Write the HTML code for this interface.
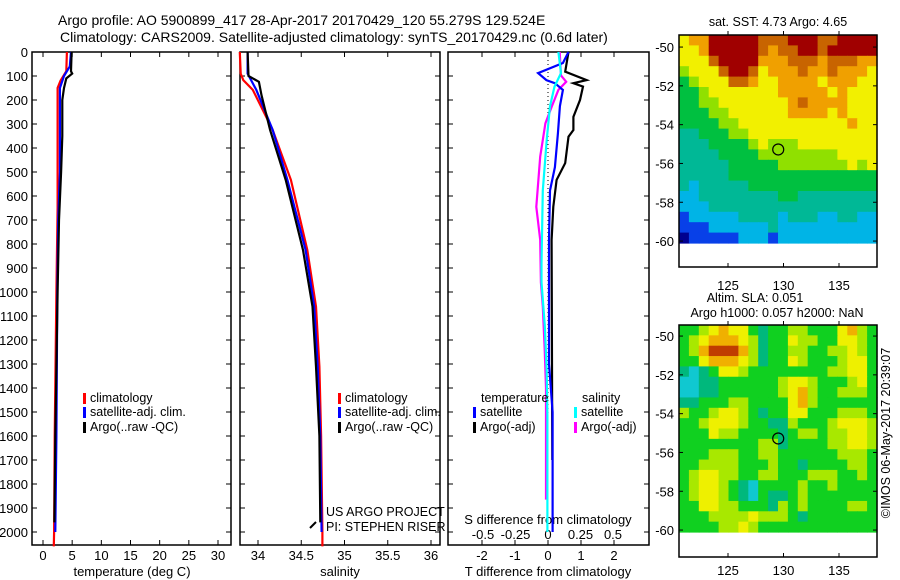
<!DOCTYPE html>
<html><head><meta charset="utf-8">
<style>
body{margin:0;background:#fff;}
svg{display:block;font-family:"Liberation Sans",sans-serif;}
text{fill:#000;}
</style></head>
<body>
<svg id="fig" width="900" height="580" viewBox="0 0 900 580" xmlns="http://www.w3.org/2000/svg">
<rect width="900" height="580" fill="#fff"/>
<text x="58" y="25" font-size="14">Argo profile: AO 5900899_417 28-Apr-2017 20170429_120 55.279S 129.524E</text>
<text x="60" y="42" font-size="14">Climatology: CARS2009. Satellite-adjusted climatology: synTS_20170429.nc (0.6d later)</text>
<g id="g"></g>
</svg>
<script>
// ---- data ----
const tClimDepth=[0,80,120,150,650,1000,1600,2000,2060];
const tClimVal=[4.1,4.0,3.0,2.5,2.5,2.3,2.0,1.9,1.85];
const tSatDepth=[0,60,100,150,500,700,1000,1600,2000];
const tSatVal=[4.8,4.6,3.6,2.9,2.9,2.6,2.45,2.3,2.1];
const tArgoDepth=[0,80,90,110,150,200,350,500,700,1000,1600,1960];
const tArgoVal=[4.9,4.8,5.0,4.0,3.6,3.3,3.3,3.1,2.75,2.5,2.1,1.95];
const sClimDepth=[0,90,117,158,325,533,825,1061,1311,1600,2000,2060];
const sClimVal=[33.79,33.80,33.83,33.94,34.17,34.38,34.57,34.67,34.71,34.73,34.745,34.745];
const sSatDepth=[0,90,158,325,533,825,1061,1311,1600,2000];
const sSatVal=[33.88,33.88,33.98,34.17,34.34,34.55,34.65,34.69,34.72,34.735];
const sArgoDepth=[0,100,124,180,325,533,825,1061,1311,1600,1960];
const sArgoVal=[33.88,33.89,34.01,34.04,34.14,34.32,34.52,34.63,34.67,34.71,34.72];
const dTSatDepth=[0,46,88,117,130,158,226,340,480,577,783,1300,1500,2000];
const dTSatVal=[0.62,0.45,-0.3,-0.05,0.21,0.45,0.36,0.3,0.21,0.06,0.03,0.03,0.14,0.14];
const dTArgoDepth=[0,82,117,130,144,200,270,325,353,463,533,645,783,1700];
const dTArgoVal=[0.62,0.52,1.17,0.77,1.06,0.97,0.77,0.77,0.62,0.52,0.26,0.16,0.11,0.13];
const dSSatDepth=[0,88,144,226,367,577,880,960,1140,1330,1516,2000];
const dSSatVal=[0.08,0.1,0.05,0.015,-0.01,-0.04,-0.05,-0.05,-0.025,-0.01,-0.005,-0.005];
const dSArgoDepth=[0,98,124,158,226,297,436,645,783,960,1060,1250,1400,1865];
const dSArgoVal=[0.09,0.1,0.14,0.08,0.03,-0.02,-0.06,-0.09,-0.06,-0.055,-0.04,-0.025,-0.015,-0.015];
const depthTicks=[0,100,200,300,400,500,600,700,800,900,1000,1100,1200,1300,1400,1500,1600,1700,1800,1900,2000];
const tempTicks=[0,5,10,15,20,25,30];
const salTicks=[34,34.5,35,35.5,36];
const salTickLabels=["34","34.5","35","35.5","36"];
const dTTicks=[-2,-1,0,1,2];
const dSTicks=[-0.5,-0.25,0,0.25,0.5];
const dSTickLabels=["-0.5","-0.25","0","0.25","0.5"];
const latTicks=[-50,-52,-54,-56,-58,-60];
const lonTicks=[125,130,135];
const sstGrid=[
"67799999888999889999","66799999878899899999","66689999777888788877","56668998677787787776",
"45666887667777677766","44566666667777767666","44556666666787777666","44455666666777767666",
"44445566666666666766","33444556666666666666","33344445655566666666","33334444555555556666",
"33333444445555555656","33333444444444444444","32333334444444444444","22333333334433333333",
"22233333333333333333","12222233332333223322","11122222232222222222","01111122212222222222"];
const slaGrid=[
"44567664344554446754","45677765344655446654","45788875344554455654","44677765344654445664",
"32346654444444455664","22334444445665444564","22334444445675445554","33444554444675444444",
"54456654344664445554","44566654433544456665","44465544443455455665","44444444553444455665",
"44455544554444445554","44555544454434444554","45665544554445554454","45665432444454454444",
"45665432433454444444","44665544435454444554","44455556555434444444","44445565444444444444"];
const argoLon=129.524, argoLat=-55.279;

// ---- drawing ----
const NS="http://www.w3.org/2000/svg";
const G=document.getElementById('g');
function el(tag,attrs,parent){const e=document.createElementNS(NS,tag);for(const k in attrs)e.setAttribute(k,attrs[k]);(parent||G).appendChild(e);return e;}
function txt(s,x,y,anchor,size,parent){const t=el('text',{x:x,y:y,'text-anchor':anchor||'start','font-size':size||13},parent);t.textContent=s;return t;}
const yD=d=>52+d*0.24;
function xScale(x0,x1,v0,v1){return v=>x0+(v-v0)*(x1-x0)/(v1-v0);}
const P1={l:32,r:231}, P2={l:240,r:440}, P3={l:448,r:649}, TOP=52, BOT=545;
const xT=xScale(43,218,0,30), xS=xScale(258,431,34,36), xDT=xScale(548,614,0,2), xDS=xScale(548,613,0,0.5);

function frame(p,name){
  const r=el('rect',{x:p.l,y:TOP,width:p.r-p.l,height:BOT-TOP,fill:'none',stroke:'#000','stroke-width':1.5});
  
  
  depthTicks.forEach(d=>{el('line',{x1:p.l,x2:p.l+5,y1:yD(d),y2:yD(d),stroke:'#000'});el('line',{x1:p.r,x2:p.r-5,y1:yD(d),y2:yD(d),stroke:'#000'});});
}
function xticks(ticks,labels,sc,ly){
  ticks.forEach((v,i)=>{const x=sc(v);el('line',{x1:x,x2:x,y1:TOP,y2:TOP+5,stroke:'#000'});el('line',{x1:x,x2:x,y1:BOT,y2:BOT-5,stroke:'#000'});
    const t=txt(labels[i],x,ly,'middle',13);});
}
function line(depths,vals,sc,color,name){
  const pts=depths.map((d,i)=>sc(vals[i]).toFixed(1)+','+yD(d).toFixed(1)).join(' ');
  const pl=el('polyline',{points:pts,fill:'none',stroke:color,'stroke-width':2.2,'stroke-linejoin':'miter'});
  
  
}
function legend(x,y,color,label){
  el('rect',{x:x,y:y-9,width:3,height:11,fill:color});
  const t=txt(label,x+7,y,'start',12.5);
  
  
}
// Panel 1
frame(P1,'temperature-panel');
depthTicks.forEach(d=>{const t=txt(String(d),28,yD(d)+5,'end',13);});
xticks(tempTicks,tempTicks.map(String),xT,560);
let t1=txt('temperature (deg C)',132,576,'middle',13);
line(tClimDepth,tClimVal,xT,'#f00','temp-climatology-line');
line(tSatDepth,tSatVal,xT,'#00f','temp-satellite-line');
line(tArgoDepth,tArgoVal,xT,'#000','temp-argo-line');
legend(83,402,'#f00','climatology');legend(83,416,'#00f','satellite-adj. clim.');legend(83,431,'#000','Argo(..raw -QC)');
// Panel 2
frame(P2,'salinity-panel');
xticks(salTicks,salTickLabels,xS,560);
let t2=txt('salinity',340,576,'middle',13);
line(sClimDepth,sClimVal,xS,'#f00','sal-climatology-line');
line(sSatDepth,sSatVal,xS,'#00f','sal-satellite-line');
line(sArgoDepth,sArgoVal,xS,'#000','sal-argo-line');
el('line',{x1:310,y1:528,x2:316,y2:522,stroke:'#000','stroke-width':2});
legend(338,402,'#f00','climatology');legend(338,416,'#00f','satellite-adj. clim.');legend(338,431,'#000','Argo(..raw -QC)');
txt('US ARGO PROJECT',326,516,'start',12.5);txt('PI: STEPHEN RISER',326,531,'start',12.5);
// Panel 3
frame(P3,'difference-panel');
xticks(dTTicks,dTTicks.map(String),xDT,560);
dSTicks.forEach((v,i)=>{const t=txt(dSTickLabels[i],xDS(v),539,'middle',13);});
txt('S difference from climatology',548,524,'middle',13);
let t3=txt('T difference from climatology',548,576,'middle',13);
el('line',{x1:xDT(0),x2:xDT(0),y1:TOP,y2:yD(2000),stroke:'#000','stroke-dasharray':'1,3'});
line(dSArgoDepth,dSArgoVal,xDS,'#f0f','sdiff-argo-line');
line(dTArgoDepth,dTArgoVal,xDT,'#000','tdiff-argo-line');
line(dTSatDepth,dTSatVal,xDT,'#00f','tdiff-satellite-line');
line(dSSatDepth,dSSatVal,xDS,'#0ff','sdiff-satellite-line');
txt('temperature',481,402,'start',12.5);txt('salinity',582,402,'start',12.5);
legend(473,416,'#00f','satellite');legend(473,431,'#000','Argo(-adj)');
legend(574,416,'#0ff','satellite');legend(574,431,'#f0f','Argo(-adj)');

// Maps
const sstPal=['#000090','#0840e8','#00b4e6','#00b896','#00c040','#90e000','#f2f000','#f0a000','#c86400','#a00000'];
const slaPal=['#000090','#0840e8','#10c8d0','#00b87c','#10d020','#a8e800','#eef000','#f0b000','#c03c00','#a00000'];
function map(top,bottomData,bottom,grid,pal,name,lonLab){
  const L=679,R=877;
  const lonS=xScale(728,839,125,135), latS=v=>bottomData-( (v+60.1)*19.4 );
  const rows=grid.length, cols=grid[0].length, cw=(R-L)/cols, ch=(bottomData-top)/rows;
  const g=el('g',{});
  
  
  grid.forEach((row,r)=>{for(let c=0;c<cols;c++){el('rect',{x:L+c*cw,y:top+r*ch,width:cw+0.6,height:ch+0.6,fill:pal[+row[c]]},g);}});
  el('rect',{x:L,y:top,width:R-L,height:bottom-top,fill:'none',stroke:'#000','stroke-width':1.5});
  latTicks.forEach(v=>{const y=latS(v);el('line',{x1:L,x2:L+4,y1:y,y2:y,stroke:'#000'});el('line',{x1:R,x2:R-4,y1:y,y2:y,stroke:'#000'});txt(String(v),674,y+5,'end',13);});
  lonTicks.forEach(v=>{const x=lonS(v);el('line',{x1:x,x2:x,y1:top,y2:top-4,stroke:'#000'});el('line',{x1:x,x2:x,y1:bottom,y2:bottom-4,stroke:'#000'});txt(String(v),x,lonLab,'middle',13);});
  const c=el('circle',{cx:lonS(argoLon),cy:latS(argoLat),r:5.5,fill:'none',stroke:'#000','stroke-width':1.2});
  
  
}
map(35,243,267,sstGrid,sstPal,'sst-map',290);
map(325,532,557,slaGrid,slaPal,'sla-map',575);
txt('sat. SST: 4.73 Argo: 4.65',778,26,'middle',12.5);
txt('Altim. SLA: 0.051',755,302,'middle',12.5);
txt('Argo h1000: 0.057 h2000: NaN',777,317,'middle',12.5);
const cr=txt('©IMOS 06-May-2017 20:39:07',0,0,'middle',12.5);
cr.setAttribute('transform','translate(890,433) rotate(-90)');


</script>
</body></html>
